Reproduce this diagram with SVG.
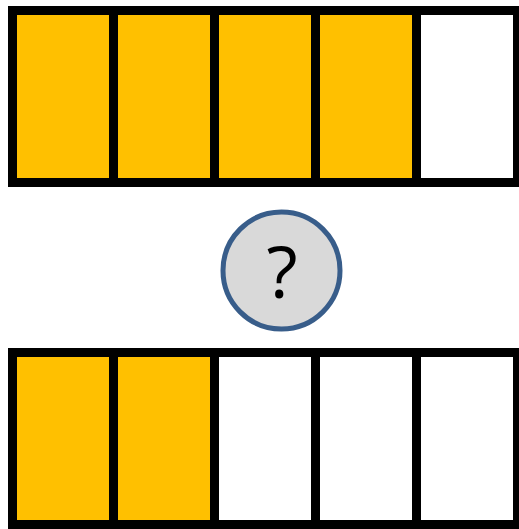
<svg xmlns="http://www.w3.org/2000/svg" width="519" height="529" viewBox="0 0 519 529">
<style>
.f{fill:#FFC000}
.e{fill:#FFFFFF}
.b{fill:none;stroke:#000;stroke-width:9}
</style>
<rect width="519" height="529" fill="#fff"/>
<g id="top-bar">
<rect class="f" x="12.5" y="10.5" width="404" height="172"/>
<rect class="e" x="416.5" y="10.5" width="101" height="172"/>
<rect class="b" x="12.5" y="10.5" width="505" height="172"/>
<path class="b" d="M113.5 10.5V182.5M214.5 10.5V182.5M315.5 10.5V182.5M416.5 10.5V182.5"/>
</g>
<g id="question">
<circle cx="281.5" cy="270.5" r="58.5" fill="#D9D9D9" stroke="#385D8A" stroke-width="5"/>
<text x="282" y="298" font-family="Open Sans, sans-serif" font-size="72" text-anchor="middle" fill="#000">?</text>
</g>
<g id="bottom-bar">
<rect class="f" x="12.5" y="352.5" width="202" height="172"/>
<rect class="e" x="214.5" y="352.5" width="303" height="172"/>
<rect class="b" x="12.5" y="352.5" width="505" height="172"/>
<path class="b" d="M113.5 352.5V524.5M214.5 352.5V524.5M315.5 352.5V524.5M416.5 352.5V524.5"/>
</g>
<g id="connectors"/>
</svg>
